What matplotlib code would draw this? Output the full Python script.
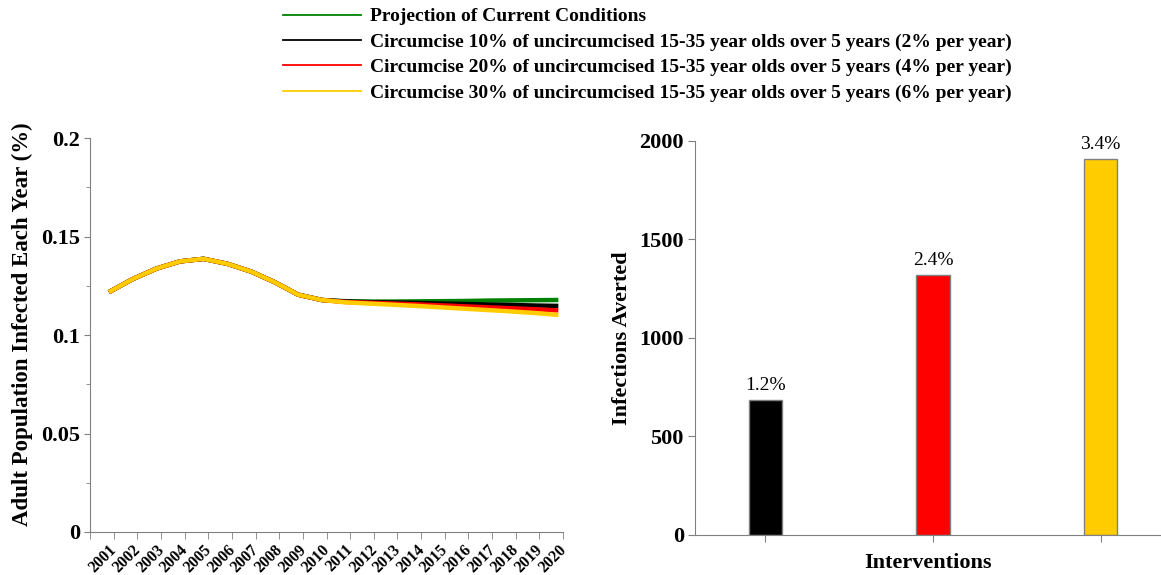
import numpy as np
import matplotlib.pyplot as plt
from matplotlib.ticker import MultipleLocator, FixedLocator

plt.rcParams['font.family'] = ['Liberation Serif', 'DejaVu Serif']
plt.rcParams['font.weight'] = 'bold'

years = [str(y) for y in range(2001, 2021)]

base = [0.1218, 0.1284, 0.1337, 0.1374, 0.1387, 0.1362, 0.1323, 0.1269, 0.1205, 0.1178]
current = base + [0.1172, 0.1170, 0.1170, 0.1171, 0.1172, 0.1173, 0.1175, 0.1176, 0.1177, 0.1178]
circ10 = base + [0.1170, 0.1167, 0.1165, 0.1163, 0.1160, 0.1158, 0.1155, 0.1153, 0.1150, 0.1148]
circ20 = base + [0.1168, 0.1164, 0.1160, 0.1156, 0.1151, 0.1146, 0.1141, 0.1136, 0.1131, 0.1125]
circ30 = base + [0.1166, 0.1160, 0.1154, 0.1148, 0.1141, 0.1134, 0.1127, 0.1120, 0.1112, 0.1102]

labels = ["Projection of Current Conditions",
          "Circumcise 10% of uncircumcised 15-35 year olds over 5 years (2% per year)",
          "Circumcise 20% of uncircumcised 15-35 year olds over 5 years (4% per year)",
          "Circumcise 30% of uncircumcised 15-35 year olds over 5 years (6% per year)"]
colors = ["#008000", "#000000", "#FF0000", "#FFCC00"]

averted = [685, 1318, 1907]
averted_pct = ["1.2%", "2.4%", "3.4%"]

spine_c = "#808080"

fig = plt.figure(figsize=(11.61, 5.75), dpi=100)

# left: incidence lines
ax1 = fig.add_axes([0.0775, 0.0748, 0.4075, 0.685])
x = np.arange(len(years))
handles = []
for s, c, lab in zip([current, circ10, circ20, circ30], colors, labels):
    ax1.plot(x, s, color=c, lw=3.2, solid_capstyle='butt')
    h, = ax1.plot([], [], color=c, lw=1.3, label=lab)
    handles.append(h)

ax1.set_xlim(-0.8, 19.2)
ax1.set_ylim(0, 0.2)
ax1.set_yticks([0, 0.05, 0.1, 0.15, 0.2])
ax1.yaxis.set_minor_locator(MultipleLocator(0.025))
ax1.set_yticklabels(["0", "0.05", "0.1", "0.15", "0.2"], fontsize=16, fontweight='bold')
ax1.set_xticks(x)
ax1.set_xticklabels(years, rotation=45, ha='right', rotation_mode='anchor',
                    fontsize=11.5, fontweight='bold')
ax1.tick_params(axis='x', which='major', length=0, pad=7)
ax1.xaxis.set_minor_locator(FixedLocator(np.arange(21) - 0.8))
ax1.tick_params(axis='x', which='minor', length=5, color=spine_c, direction='out')
ax1.tick_params(axis='y', which='both', direction='out', color=spine_c, pad=3)
ax1.tick_params(axis='y', which='major', length=4)
ax1.tick_params(axis='y', which='minor', length=3)
ax1.set_ylabel("Adult Population Infected Each Year (%)", fontsize=16.5, fontweight='bold')
ax1.yaxis.set_label_coords(-0.12, 0.528)
for sp in ['top', 'right']:
    ax1.spines[sp].set_visible(False)
for sp in ['left', 'bottom']:
    ax1.spines[sp].set_color(spine_c)

# right: infections averted bars
ax2 = fig.add_axes([0.5986, 0.0696, 0.4014, 0.6854])
bx = np.arange(len(averted))
bars = ax2.bar(bx, averted, width=0.2, color=colors[1:], edgecolor=spine_c, linewidth=1)
for b, t in zip(bars, averted_pct):
    ax2.text(b.get_x() + b.get_width() / 2, b.get_height() + 30, t,
             ha='center', va='bottom', fontsize=14, fontweight='normal')
ax2.set_xlim(-0.42, 2.36)
ax2.set_ylim(0, 2000)
ax2.set_yticks([0, 500, 1000, 1500, 2000])
ax2.set_yticklabels(["0", "500", "1000", "1500", "2000"], fontsize=16, fontweight='bold')
ax2.set_xticks(bx)
ax2.set_xticklabels([])
ax2.tick_params(axis='both', direction='out', length=5, color=spine_c, pad=3)
ax2.set_xlabel("Interventions", fontsize=16, fontweight='bold', labelpad=5)
ax2.set_ylabel("Infections Averted", fontsize=16, fontweight='bold', labelpad=5)
for sp in ['top', 'right']:
    ax2.spines[sp].set_visible(False)
for sp in ['left', 'bottom']:
    ax2.spines[sp].set_color(spine_c)

fig.legend(handles=handles, loc='upper left', bbox_to_anchor=(0.237, 1.0),
           frameon=False, fontsize=14, handlelength=4.0, handletextpad=0.5,
           labelspacing=0.4, borderaxespad=0.0)

fig.savefig("out.png", dpi=100)
